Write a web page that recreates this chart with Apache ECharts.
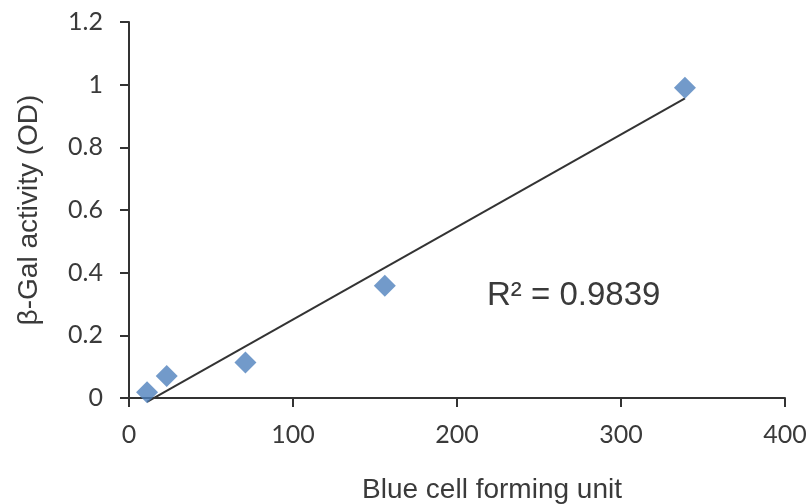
<!DOCTYPE html>
<html>
<head>
<meta charset="utf-8">
<script src="https://cdn.jsdelivr.net/npm/echarts@6/dist/echarts.min.js"></script>
<style>
  html, body { margin: 0; padding: 0; background: #fff; }
  #chart { width: 809px; height: 504px; }
</style>
</head>
<body>
<div id="chart"></div>
<script>
// blue cell forming units vs beta-gal OD
var cfu = [11, 23, 71, 156, 339];
var od = [0.018, 0.07, 0.113, 0.358, 0.99];
var xTicks = [0, 100, 200, 300, 400];
var yTicks = [0, 0.2, 0.4, 0.6, 0.8, 1, 1.2];
var r2Label = 'R² = 0.9839';

// linear trend line (least squares)
var n = cfu.length, mx = 0, my = 0;
for (var i = 0; i < n; i++) { mx += cfu[i]; my += od[i]; }
mx /= n; my /= n;
var sxy = 0, sxx = 0;
for (var i = 0; i < n; i++) {
    sxy += (cfu[i] - mx) * (od[i] - my);
    sxx += (cfu[i] - mx) * (cfu[i] - mx);
}
var slope = sxy / sxx, icpt = my - slope * mx;
var x0 = Math.min.apply(null, cfu), x1 = Math.max.apply(null, cfu);
var trend = [[x0, slope * x0 + icpt], [x1, slope * x1 + icpt]];

var tickFont = { fontFamily: 'Lato', fontSize: 25, color: '#3a3a3a' };
var titleFont = { fontFamily: 'Liberation Sans', fontSize: 28, color: '#3a3a3a' };

var chart = echarts.init(document.getElementById('chart'));
chart.setOption({
    animation: false,
    grid: { left: 129, right: 24, top: 22, bottom: 106, outerBoundsMode: 'none' },
    xAxis: {
        type: 'value', min: 0, max: 400, interval: 100,
        name: 'Blue cell forming unit', nameLocation: 'middle', nameGap: 78,
        nameTextStyle: Object.assign({ padding: [0, 0, 0, 70] }, titleFont),
        axisLine: { lineStyle: { color: '#333', width: 2 } },
        axisTick: { show: true, length: 9, lineStyle: { color: '#333', width: 2 } },
        axisLabel: Object.assign({ margin: 24 }, tickFont),
        splitLine: { show: false }
    },
    yAxis: {
        type: 'value', min: 0, max: 1.2, interval: 0.2,
        name: 'β-Gal activity (OD)', nameLocation: 'middle', nameGap: 86,
        nameTextStyle: titleFont,
        axisLine: { show: true, lineStyle: { color: '#333', width: 2 } },
        axisTick: { show: true, length: 9, lineStyle: { color: '#333', width: 2 } },
        axisLabel: Object.assign({ margin: 26, formatter: function (v) { return String(+v.toFixed(1)); } }, tickFont),
        splitLine: { show: false }
    },
    series: [
        {
            type: 'line', data: trend, showSymbol: false, clip: false,
            lineStyle: { color: '#333', width: 2 }, z: 2
        },
        {
            type: 'scatter', data: cfu.map(function (x, i) { return [x, od[i]]; }),
            symbol: 'diamond', symbolSize: [22, 22],
            itemStyle: { color: '#4F81BD' }, z: 3
        }
    ],
    graphic: [{
        type: 'text', left: 487, top: 279,
        style: { text: r2Label, fontFamily: 'Liberation Sans', fontSize: 33, fill: '#3a3a3a' }
    }]
});
</script>
</body>
</html>
